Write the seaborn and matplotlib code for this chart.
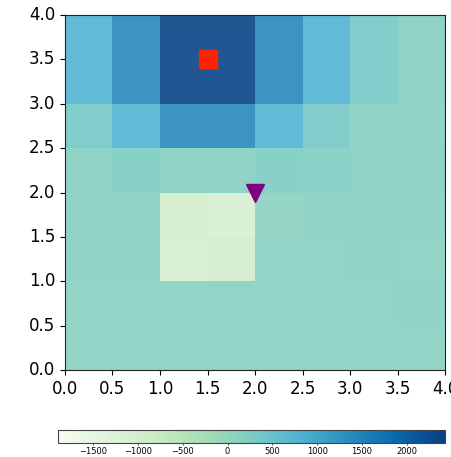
import matplotlib
matplotlib.use('Agg')
import numpy as np
import pandas as pd
import matplotlib.pyplot as plt
import seaborn as sns

# grid values, top row (y 3.5-4.0) first, columns x 0.0 -> 4.0
row_35_40 = [790, 1390, 2350, 2350, 1390, 790, 355, 170]
row_30_35 = [790, 1390, 2350, 2350, 1390, 790, 355, 170]
row_25_30 = [355, 790, 1390, 1390, 790, 340, 160, 160]
row_20_25 = [170, 270, 160, 160, 270, 190, 170, 170]
row_15_20 = [160, 170, -950, -1120, 110, 180, 175, 165]
row_10_15 = [155, 160, -1020, -950, 140, 150, 155, 150]
row_05_10 = [150, 150, 150, 150, 150, 150, 150, 155]
row_00_05 = [150, 150, 150, 150, 150, 150, 150, 150]

extent = 4.0
color_min, color_max = -1891, 2428
tick_values = [0.0, 0.5, 1.0, 1.5, 2.0, 2.5, 3.0, 3.5, 4.0]
cbar_ticks = [-1500, -1000, -500, 0, 500, 1000, 1500, 2000]

# markers in data coordinates
square_x, square_y = [1.5], [3.5]
tri_x, tri_y = [2.0], [2.0]

grid = pd.DataFrame([row_35_40, row_30_35, row_25_30, row_20_25,
                     row_15_20, row_10_15, row_05_10, row_00_05])
n = grid.shape[0]
cell = extent / n

fig = plt.figure(figsize=(4.51, 4.57), dpi=100)
ax = fig.add_axes([0.144, 0.190, 0.843, 0.777])
cax = fig.add_axes([0.129, 0.031, 0.858, 0.028])

sns.heatmap(grid, ax=ax, cmap='GnBu', vmin=color_min, vmax=color_max,
            alpha=0.9, cbar_ax=cax, cbar_kws={'orientation': 'horizontal'})

for s in ax.spines.values():
    s.set_visible(True)
    s.set_linewidth(0.8)
    s.set_color('#222222')

ax.set_xticks(np.arange(n + 1))
ax.set_xticklabels([f"{t:.1f}" for t in tick_values], rotation=0, fontsize=12)
ax.set_yticks(np.arange(n + 1))
ax.set_yticklabels([f"{t:.1f}" for t in tick_values[::-1]], rotation=0, fontsize=12)
ax.tick_params(length=3.5, width=0.8)
ax.set_xlabel('')
ax.set_ylabel('')

def to_cells(xs, ys):
    return [x / cell for x in xs], [(extent - y) / cell for y in ys]

sx, sy = to_cells(square_x, square_y)
ax.plot(sx, sy, 's', color='#ff2200', markersize=13, clip_on=False)
tx, ty = to_cells(tri_x, tri_y)
ax.plot(tx, ty, 'v', color='#800080', markersize=13, clip_on=False)

cb = ax.collections[0].colorbar
cb.solids.set_alpha(1.0)
cb.outline.set_linewidth(0.8)
cb.outline.set_edgecolor('#444444')
cb.set_ticks(cbar_ticks)
cb.ax.tick_params(labelsize=6, length=1.5, width=0.5, pad=1.2)

plt.savefig('out.png', dpi=100)
plt.close()
